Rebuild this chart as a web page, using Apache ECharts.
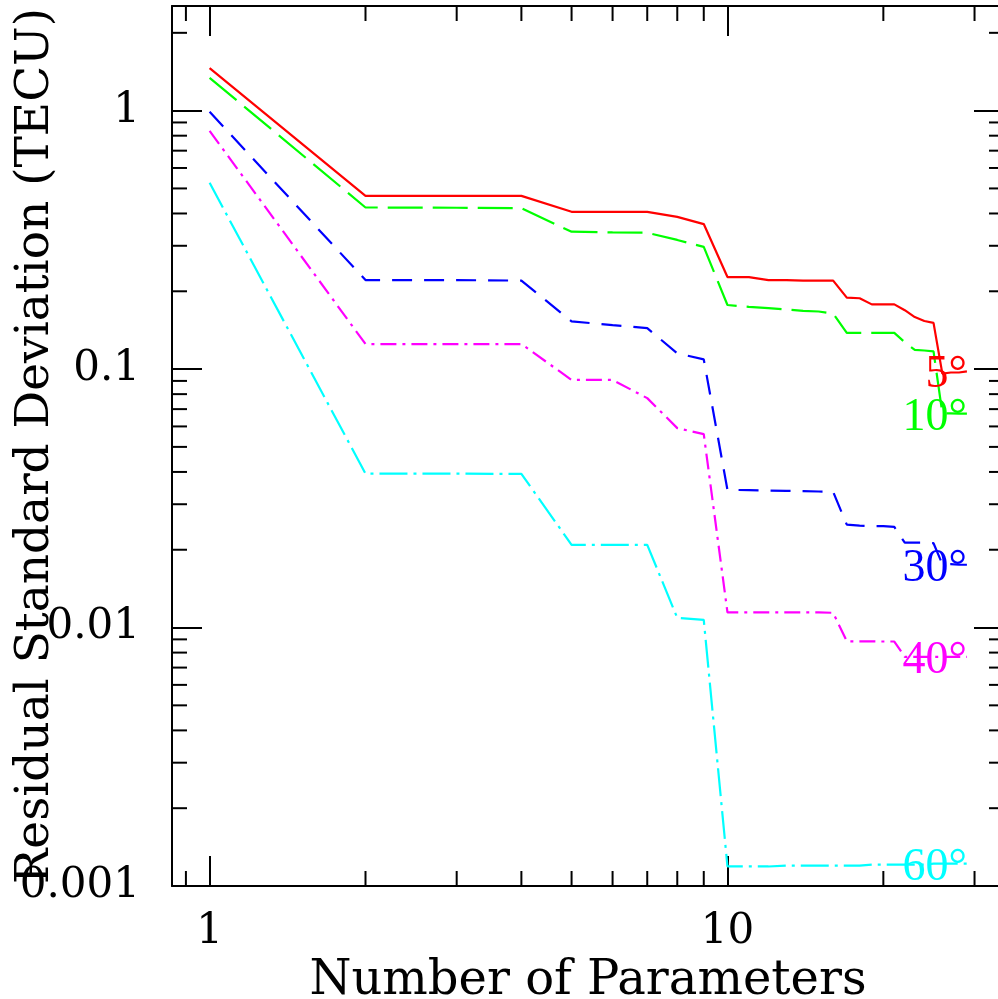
<!DOCTYPE html>
<html><head><meta charset="utf-8">
<script src="https://cdn.jsdelivr.net/npm/echarts@6/dist/echarts.min.js"></script>
<style>html,body{margin:0;padding:0;background:#fff}#c{width:998px;height:999px}</style>
</head><body><div id="c"></div><script>
// ---- data ----
const numParams = [1,2,3,4,5,6,7,8,9,10,11,12,13,14,15,16,17,18,19,20,21,22,23,24,25,26,27,28,29];
const elev5  = [1.46,0.468,0.468,0.468,0.406,0.406,0.406,0.388,0.364,0.227,0.227,0.221,0.221,0.220,0.220,0.220,0.189,0.188,0.178,0.178,0.178,0.169,0.159,0.1535,0.151,0.096,0.097,0.097,0.098];
const elev10 = [1.34,0.422,0.421,0.419,0.340,0.338,0.337,0.316,0.297,0.177,0.174,0.172,0.170,0.168,0.167,0.164,0.138,0.138,0.138,0.138,0.138,0.127,0.1186,0.118,0.117,0.0675,0.0674,0.0673,0.0673];
const elev30 = [0.99,0.221,0.221,0.220,0.153,0.148,0.144,0.115,0.109,0.0341,0.0340,0.0339,0.0338,0.0337,0.0336,0.0335,0.0250,0.0248,0.0247,0.0247,0.0245,0.0213,0.0213,0.0213,0.0212,0.0176,0.0176,0.0175,0.0175];
const elev40 = [0.835,0.125,0.125,0.125,0.0908,0.0908,0.0772,0.0591,0.056,0.01145,0.01145,0.01145,0.01145,0.01145,0.01145,0.0114,0.00885,0.00884,0.00884,0.00883,0.00883,0.0077,0.0077,0.0077,0.0077,0.0077,0.0077,0.0077,0.0077];
const elev60 = [0.526,0.0394,0.0394,0.0393,0.0209,0.0209,0.0209,0.0109,0.0107,0.00119,0.00119,0.00119,0.0012,0.0012,0.0012,0.0012,0.0012,0.0012,0.00121,0.00121,0.00121,0.00121,0.00121,0.00121,0.00122,0.00122,0.00122,0.00122,0.00122];
const seriesLabels = ['5°','10°','30°','40°','60°'];
const xTickLabels = ['1','10'];
const yTickLabels = ['0.001','0.01','0.1','1'];
const xMinorTicks = [0.9,2,3,4,5,6,7,8,9,20,30];
const yMinorTicks = [0.002,0.003,0.004,0.005,0.006,0.007,0.008,0.009,0.02,0.03,0.04,0.05,0.06,0.07,0.08,0.09,0.2,0.3,0.4,0.5,0.6,0.7,0.8,0.9,2];
const xAxisTitle = 'Number of Parameters';
const yAxisTitle = 'Residual Standard Deviation (TECU)';

// ---- styles ----
const allValues = [elev5, elev10, elev30, elev40, elev60];
const colors = ['#ff0000','#00ff00','#0000ff','#ff00ff','#00ffff'];
const dashes = ['solid',[35,10],[20,12],[16,6,3,6],[28,6,3,6]];
const AX = '#000';
const tickFont = {fontFamily:'DejaVu Serif', fontSize:42, color:'#000'};

function powLabel(list, offset){
  return function(v){
    const l = Math.log10(v), r = Math.round(l);
    if (Math.abs(l - r) > 1e-6) return '';
    const s = list[r + offset];
    return s === undefined ? '' : s;
  };
}

const lineSeries = allValues.map((vals, i) => ({
  type:'line', name: seriesLabels[i],
  data: numParams.map((n, j) => [n, vals[j]]),
  showSymbol:false, symbol:'none',
  lineStyle:{color:colors[i], width:2.2, type:dashes[i]},
  itemStyle:{color:colors[i]},
  endLabel:{show:true, formatter: seriesLabels[i], align:'right', verticalAlign:'middle', distance:0,
    color:colors[i], fontFamily:'Liberation Serif', fontSize:46, offset:[0,4]},
  z: 3
}));

function minorX(params, api){
  const cs = params.coordSys;
  const x = api.coord([api.value(0), 1])[0];
  const b = cs.y + cs.height;
  return {type:'group', children:[
    {type:'line', shape:{x1:x,y1:b,x2:x,y2:b-15}, style:{stroke:AX,lineWidth:2}},
    {type:'line', shape:{x1:x,y1:cs.y,x2:x,y2:cs.y+15}, style:{stroke:AX,lineWidth:2}}
  ]};
}
function minorY(params, api){
  const cs = params.coordSys;
  const y = api.coord([1, api.value(1)])[1];
  const r = cs.x + cs.width;
  return {type:'group', children:[
    {type:'line', shape:{x1:cs.x,y1:y,x2:cs.x+15,y2:y}, style:{stroke:AX,lineWidth:2}},
    {type:'line', shape:{x1:r,y1:y,x2:r-15,y2:y}, style:{stroke:AX,lineWidth:2}}
  ]};
}

const XMIN = 0.846, XMAX = 34.2, YMIN = 0.001, YMAX = 2.54;
const axisCommon = {
  type:'log', logBase:10,
  axisLine:{show:true, lineStyle:{color:AX, width:2}},
  axisTick:{show:true, inside:true, length:30, lineStyle:{color:AX, width:2}},
  splitLine:{show:false}, minorTick:{show:false}, minorSplitLine:{show:false}
};

const option = {
  animation:false,
  backgroundColor:'#fff',
  grid:{left:172, top:6, right:-6, bottom:113, containLabel:false, outerBoundsMode:'none'},
  xAxis:[
    Object.assign({}, axisCommon, {position:'bottom', min:XMIN, max:XMAX,
      axisLabel:Object.assign({margin:25, formatter:powLabel(xTickLabels,0)}, tickFont),
      name:xAxisTitle, nameLocation:'middle', nameGap:72, nameMoveOverlap:false,
      nameTextStyle:{fontFamily:'DejaVu Serif', fontSize:48, color:'#000'}}),
    Object.assign({}, axisCommon, {position:'top', min:XMIN, max:XMAX, axisLabel:{show:false}})
  ],
  yAxis:[
    Object.assign({}, axisCommon, {position:'left', min:YMIN, max:YMAX,
      axisLabel:Object.assign({margin:32, formatter:powLabel(yTickLabels,3)}, tickFont),
      name:yAxisTitle, nameLocation:'middle', nameGap:113, nameRotate:90, nameMoveOverlap:false,
      nameTextStyle:{fontFamily:'DejaVu Serif', fontSize:47, color:'#000'}}),
    Object.assign({}, axisCommon, {position:'right', min:YMIN, max:YMAX, axisLabel:{show:false}})
  ],
  series: lineSeries.concat([
    {type:'custom', renderItem:minorX, data:xMinorTicks.map(v=>[v,1]), encode:{x:0,y:1}, silent:true, z:1},
    {type:'custom', renderItem:minorY, data:yMinorTicks.map(v=>[1,v]), encode:{x:0,y:1}, silent:true, z:1}
  ])
};
const chart = echarts.init(document.getElementById('c'), null, {renderer:'canvas'});
chart.setOption(option);
</script></body></html>
